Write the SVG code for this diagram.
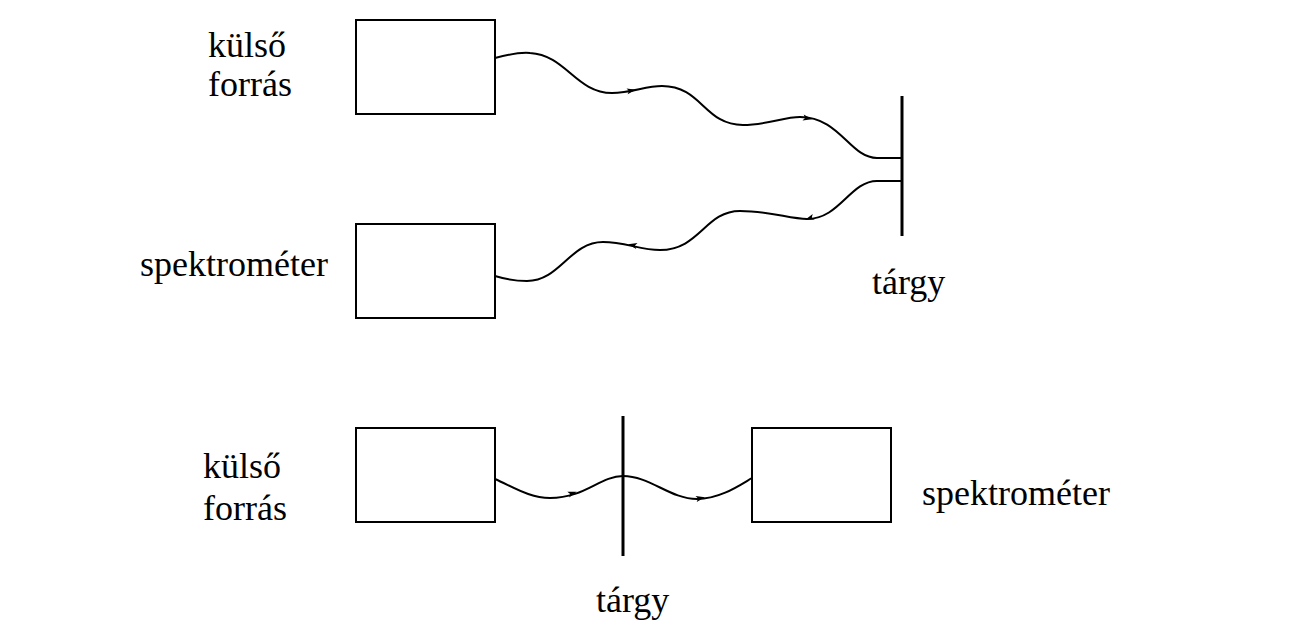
<svg xmlns="http://www.w3.org/2000/svg" xmlns:xlink="http://www.w3.org/1999/xlink" width="1302" height="628" viewBox="0 0 1302 628">
<style>
.box{fill:#fff;stroke:#000;stroke-width:2}
.wave{fill:none;stroke:#000;stroke-width:2}
.target{stroke:#000;stroke-width:3}
.lbl{font-family:'Liberation Serif','Times New Roman',serif;font-size:36px;fill:#000}
</style>
<defs>
<path id="ah" d="M4,0 L-5,-3 L-3,0 L-5,3 Z" fill="#000"/>
</defs>
<rect width="1302" height="628" fill="#fff"/>
<g id="forras1"><rect class="box" x="356" y="20" width="139" height="94"/><text class="lbl" x="208" y="57">külső</text><text class="lbl" x="208" y="96">forrás</text></g>
<g id="spektrometer1"><rect class="box" x="356" y="224" width="139" height="94"/><text class="lbl" x="140" y="276">spektrométer</text></g>
<g id="targy1"><line class="target" x1="902" y1="96" x2="902" y2="236"/><text class="lbl" x="872" y="294">tárgy</text></g>
<g id="forras2"><rect class="box" x="356" y="428" width="139" height="94"/><text class="lbl" x="203" y="478">külső</text><text class="lbl" x="203" y="520">forrás</text></g>
<g id="spektrometer2"><rect class="box" x="752" y="428" width="139" height="94"/><text class="lbl" x="922" y="505">spektrométer</text></g>
<g id="targy2"><line class="target" x1="623" y1="416" x2="623" y2="556"/><text class="lbl" x="596" y="612">tárgy</text></g>
<g id="connectors">
<path class="wave" d="M495,58 C506,55 518,52 530,53 C566,55 576,93 612,93 C632,93 645,86 662,86 C702,86 704,125 743,125 C766,125 784,117 800,117 C840,117 850,158 877,158 L902,158"/>
<use xlink:href="#ah" transform="translate(632,90.5) rotate(-10)"/>
<use xlink:href="#ah" transform="translate(808,118.5) rotate(12)"/>
<path class="wave" d="M495,276 C505,279 515,281 527,281 C560,281 570,242 603,242 C625,242 640,250 660,250 C700,250 705,211 740,211 C770,211 790,219 807,219 C840,219 850,181 877,181 L902,181"/>
<use xlink:href="#ah" transform="translate(632,245) rotate(192)"/>
<use xlink:href="#ah" transform="translate(809,218.5) rotate(160)"/>
<path class="wave" d="M495,479 C515,488 530,498 550,498 C585,498 600,476 623,476 C650,476 670,499 697,499 C720,499 740,485 752,478"/>
<use xlink:href="#ah" transform="translate(573,493) rotate(-18)"/>
<use xlink:href="#ah" transform="translate(701,498) rotate(-12)"/>
</g>
</svg>
